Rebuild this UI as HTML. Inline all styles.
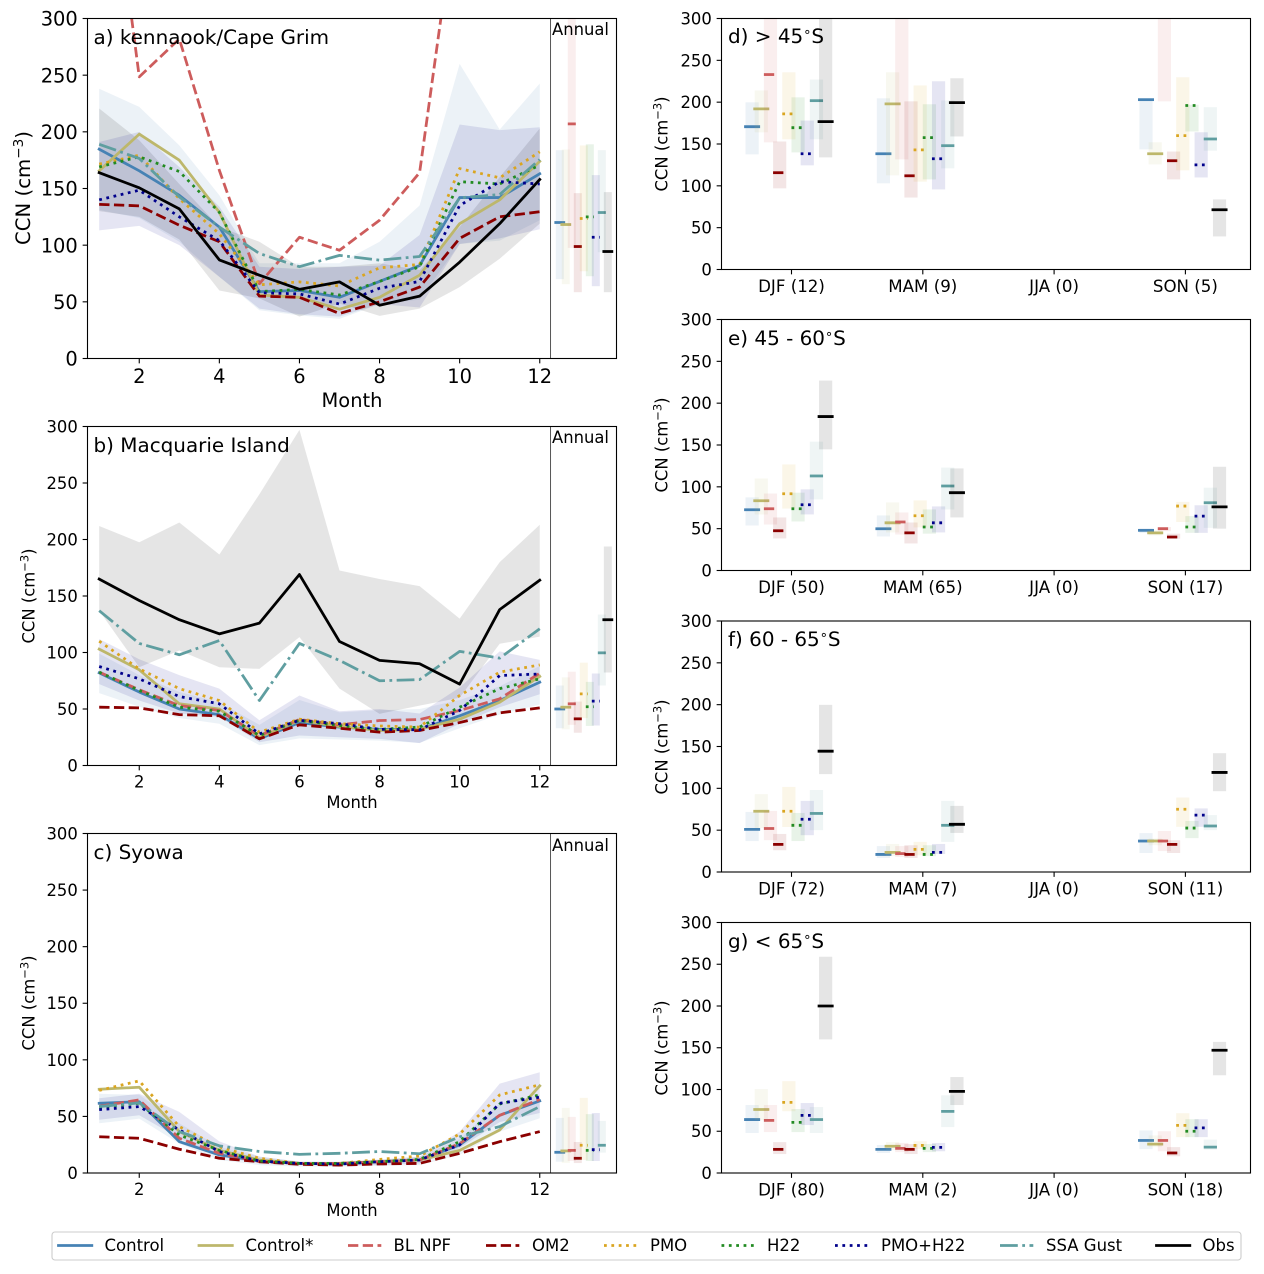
<!DOCTYPE html>
<html lang="en">
<head>
<meta charset="utf-8">
<title>CCN seasonal comparison</title>
<style>
html,body{margin:0;padding:0;background:#fff;}
svg{display:block;font-family:"DejaVu Sans","Liberation Sans",sans-serif;fill:#000;}
</style>
</head>
<body>
<svg id="fig" width="1264" height="1274" viewBox="0 0 1264 1274" xmlns="http://www.w3.org/2000/svg">
  <rect width="1264" height="1274" fill="#fff"/>

  <g id="panel-a"></g>
  <text x="93.5" y="44" font-size="19.95">a) kennaook/Cape Grim</text>
  <text x="552" y="35" font-size="16.4">Annual</text>
  <text x="352" y="407" font-size="19.44" text-anchor="middle">Month</text>
  <text transform="translate(30 188) rotate(-90)" font-size="19.7" text-anchor="middle">CCN (cm<tspan dy="-7" font-size="13.6">−3</tspan><tspan dy="7">)</tspan></text>

  <g id="panel-b"></g>
  <text x="93.5" y="452" font-size="19.95">b) Macquarie Island</text>
  <text x="552" y="443" font-size="16.4">Annual</text>
  <text x="352" y="808" font-size="16.4" text-anchor="middle">Month</text>
  <text transform="translate(34.5 596) rotate(-90)" font-size="16.4" text-anchor="middle">CCN (cm<tspan dy="-6" font-size="11.5">−3</tspan><tspan dy="6">)</tspan></text>

  <g id="panel-c"></g>
  <text x="93.5" y="859" font-size="19.95">c) Syowa</text>
  <text x="552" y="851" font-size="16.4">Annual</text>
  <text x="352" y="1216" font-size="16.4" text-anchor="middle">Month</text>
  <text transform="translate(34.5 1003) rotate(-90)" font-size="16.4" text-anchor="middle">CCN (cm<tspan dy="-6" font-size="11.5">−3</tspan><tspan dy="6">)</tspan></text>

  <g id="panel-d"></g>
  <text x="728" y="43" font-size="19.95">d) &gt; 45<tspan dy="-7" font-size="13">∘</tspan><tspan dy="7">S</tspan></text>
  <text transform="translate(667.5 144) rotate(-90)" font-size="16.4" text-anchor="middle">CCN (cm<tspan dy="-6" font-size="11.5">−3</tspan><tspan dy="6">)</tspan></text>

  <g id="panel-e"></g>
  <text x="728" y="345" font-size="19.95">e) 45 - 60<tspan dy="-7" font-size="13">∘</tspan><tspan dy="7">S</tspan></text>
  <text transform="translate(667.5 445) rotate(-90)" font-size="16.4" text-anchor="middle">CCN (cm<tspan dy="-6" font-size="11.5">−3</tspan><tspan dy="6">)</tspan></text>

  <g id="panel-f"></g>
  <text x="728" y="646" font-size="19.95">f) 60 - 65<tspan dy="-7" font-size="13">∘</tspan><tspan dy="7">S</tspan></text>
  <text transform="translate(667.5 747) rotate(-90)" font-size="16.4" text-anchor="middle">CCN (cm<tspan dy="-6" font-size="11.5">−3</tspan><tspan dy="6">)</tspan></text>

  <g id="panel-g"></g>
  <text x="728" y="948" font-size="19.95">g) &lt; 65<tspan dy="-7" font-size="13">∘</tspan><tspan dy="7">S</tspan></text>
  <text transform="translate(667.5 1048) rotate(-90)" font-size="16.4" text-anchor="middle">CCN (cm<tspan dy="-6" font-size="11.5">−3</tspan><tspan dy="6">)</tspan></text>

  <g font-size="16.5">
    <rect x="52" y="1232" width="1189" height="28" rx="3" ry="3" fill="#fff" stroke="#cccccc" stroke-width="1.1"/>
    <line x1="58.5" x2="91.8" y1="1245.5" y2="1245.5" stroke="#4682b4" stroke-width="2.78" stroke-linecap="square"/>
    <text x="104.5" y="1251">Control</text>
    <line x1="199" x2="232.3" y1="1245.5" y2="1245.5" stroke="#bdb76b" stroke-width="2.78" stroke-linecap="square"/>
    <text x="245.5" y="1251">Control*</text>
    <line x1="348" x2="381.3" y1="1245.5" y2="1245.5" stroke="#cd5c5c" stroke-width="2.78" stroke-dasharray="10.3 4.45"/>
    <text x="393.5" y="1251">BL NPF</text>
    <line x1="486" x2="519.3" y1="1245.5" y2="1245.5" stroke="#8b0000" stroke-width="2.78" stroke-dasharray="10.3 4.45"/>
    <text x="532" y="1251">OM2</text>
    <line x1="604" x2="637.3" y1="1245.5" y2="1245.5" stroke="#daa520" stroke-width="2.78" stroke-dasharray="2.78 4.58"/>
    <text x="650" y="1251">PMO</text>
    <line x1="721.5" x2="754.8" y1="1245.5" y2="1245.5" stroke="#228b22" stroke-width="2.78" stroke-dasharray="2.78 4.58"/>
    <text x="767" y="1251">H22</text>
    <line x1="835" x2="868.3" y1="1245.5" y2="1245.5" stroke="#00008b" stroke-width="2.78" stroke-dasharray="2.78 4.58"/>
    <text x="881" y="1251">PMO+H22</text>
    <line x1="1000" x2="1033.3" y1="1245.5" y2="1245.5" stroke="#5f9ea0" stroke-width="2.78" stroke-dasharray="17.8 4.45 2.78 4.45"/>
    <text x="1046" y="1251">SSA Gust</text>
    <line x1="1156.5" x2="1189.8" y1="1245.5" y2="1245.5" stroke="#000000" stroke-width="2.78" stroke-linecap="square"/>
    <text x="1202.5" y="1251">Obs</text>
  </g>
</svg>

<script>
/* ---------- shared tick values ---------- */
const monthTicks = [2, 4, 6, 8, 10, 12];
const months = [1, 2, 3, 4, 5, 6, 7, 8, 9, 10, 11, 12];
const ccnTicks = [0, 50, 100, 150, 200, 250, 300];

/* ---------- panel a: kennaook/Cape Grim ---------- */
const aControl  = [184.7, 165.6, 144, 116, 59, 60, 54, 68, 82, 142, 142, 163];
const aControlS = [165.6, 198, 175, 129, 56, 54, 43.5, 54, 73.5, 119, 140, 174];
const aBlNpf    = [520, 248.5, 282, 166, 66, 107, 95.5, 122, 164, 420, 600, 500];
const aOm2      = [136, 134.7, 117.6, 103, 55, 54, 39.7, 50, 63, 106, 125, 129.5];
const aPmo      = [171.5, 179.4, 141, 110, 65, 67.6, 64, 80, 83, 167.6, 159.4, 182.4];
const aH22      = [169, 178, 165, 129, 59, 61, 56, 68, 81, 156, 154, 170.6];
const aPmoH22   = [140, 148.5, 125, 104, 58, 57, 48, 62, 68, 135, 156, 154];
const aSsa      = [189, 176.5, 142.6, 116, 92.6, 81, 91, 86.8, 90, 141.8, 144.7, 175.6];
const aObs      = [164, 150.6, 132, 87, 73.5, 61, 67.6, 47, 55, 85, 119, 158];
const aControlHi = [238, 222, 188, 144, 84, 84, 84, 103, 135, 260, 202, 242.7];
const aControlLo = [131, 124, 103, 72, 42.6, 38, 35, 48, 52, 101, 104, 122];
const aMixHi = [191, 200, 169, 134, 81, 79, 81, 82, 109, 206.5, 201.5, 204];
const aMixLo = [113, 117, 100, 72, 44, 39, 37, 48, 45, 101, 106, 114];
const aObsHi = [220.6, 192.6, 154, 116, 103, 81, 81, 84, 78, 116, 160, 203];
const aObsLo = [130, 125, 105, 60, 53, 37, 48.5, 37.6, 44, 63, 88, 119];
const aAnnualHi  = [183.8, 184.4, 320, 145.9, 188, 189, 161.8, 183.8, 146.8];
const aAnnualMid = [120, 118.2, 207, 98.8, 123.5, 125, 107, 128.8, 94.4];
const aAnnualLo  = [70, 65.6, 97.6, 58.5, 77, 72.6, 63.8, 93.8, 58.5];

/* ---------- panel b: Macquarie Island ---------- */
const bControl  = [82, 65, 50, 45, 23.6, 38, 34, 32, 32, 44, 57.5, 73.7];
const bControlS = [103, 84.7, 54.6, 50, 25, 40, 34.5, 31, 32, 41, 56, 78.8];
const bBlNpf    = [82.6, 67, 53, 48.7, 26.5, 40.7, 36, 39.8, 40.7, 48.7, 59, 81.7];
const bOm2      = [51.6, 51, 45, 44, 23.6, 36, 33, 29.5, 31, 38, 46.6, 51];
const bPmo      = [110, 85.5, 68, 57.5, 29.5, 41, 37, 35, 34, 62, 82.6, 89];
const bH22      = [82.6, 66.4, 51.6, 48, 26.5, 40, 35.4, 32, 34, 51.6, 68, 76.7];
const bPmoH22   = [87.6, 76.7, 61, 54.6, 28, 40, 37, 32, 31.6, 48.7, 79.6, 81];
const bSsa      = [137, 108, 98, 110.6, 57.5, 108, 93, 75, 76, 101, 95, 121];
const bObs      = [165, 146, 129, 116.5, 126, 169, 109.7, 93, 90, 72, 138, 164];
const bControlHi = [99, 80, 65, 56, 36, 58, 47, 49, 50, 58, 70, 88];
const bControlLo = [64, 52, 42, 37, 18, 24, 23, 22, 20, 33, 45, 54];
const bMixHi = [112, 94, 80, 68, 40, 62, 48, 50, 46, 69, 101, 93.5];
const bMixLo = [72, 57.5, 46, 43, 20.6, 26.5, 25, 23.6, 19.8, 37, 51.6, 63];
const bObsHi = [212, 197.6, 215, 186.7, 240, 297, 172.6, 165, 158.7, 130, 180, 213];
const bObsLo = [137, 87, 101.8, 87, 85.5, 113.6, 68, 45.7, 53, 60, 107.7, 114];
const bAnnualHi  = [70.8, 78, 83, 56.6, 91, 74, 81.4, 133.6, 193.8];
const bAnnualMid = [50, 51.6, 54.6, 41.3, 63.4, 52, 57, 99.7, 129];
const bAnnualLo  = [33, 32, 36, 29, 42, 35, 35.4, 70.8, 82.3];

/* ---------- panel c: Syowa ---------- */
const cControl  = [61.6, 63, 27.7, 16, 10.6, 8.5, 8, 10, 11.5, 24.8, 51, 63.7];
const cControlS = [74, 75.8, 36.6, 20, 11.5, 8.5, 8.5, 10, 11.5, 20, 38, 77];
const cBlNpf    = [59, 64.6, 30.7, 17.4, 10, 8.5, 8.5, 10, 11.5, 26, 51, 65];
const cOm2      = [32, 30.7, 21, 13, 10, 7.7, 7, 8, 8.5, 17.4, 27.7, 36.6];
const cPmo      = [73, 81.4, 41, 23, 13, 8.5, 8.5, 12, 15, 34.5, 69, 78];
const cH22      = [58, 61.6, 33.6, 20, 10.6, 8.5, 8.5, 10, 12, 27.7, 61, 69];
const cPmoH22   = [56, 58.7, 38, 19, 10.6, 8.5, 8, 10, 11.5, 24.8, 61.6, 67];
const cSsa      = [58.7, 62, 36.6, 24, 19, 16.5, 17.4, 19, 17, 32, 41, 58.7];
const cObs      = [];
const cControlHi = [70, 69, 44, 23, 14.5, 10, 9.5, 11.5, 14.5, 30, 61.6, 69];
const cControlLo = [44, 48, 26, 11.5, 7, 5.6, 5.6, 6.5, 7, 16, 36.6, 48.4];
const cMixHi = [66, 70, 54, 28, 14.5, 10, 10, 12, 14.5, 36.6, 79, 89];
const cMixLo = [47, 51, 30.7, 14.5, 8.5, 7, 6.5, 7, 8.5, 22, 45, 53];
const cObsHi = [];
const cObsLo = [];
const cAnnualHi  = [48.7, 57.5, 49.6, 27.4, 66.4, 52, 53, 46, null];
const cAnnualMid = [18.3, 19.5, 20, 13, 24.5, 20, 20.6, 24.5, null];
const cAnnualLo  = [10, 9, 10.6, 8.8, 11.5, 10.6, 10.6, 18, null];

/* ---------- panel d: > 45S (rows: DJF, MAM, JJA, SON; order of models as legend) ---------- */
const dSeasons = ['DJF (12)', 'MAM (9)', 'JJA (0)', 'SON (5)'];
const dHi  = [[199.8, 214, 330, 153, 235.7, 205.8, 178, 227, 330],
              [204.6, 235.7, 360, 201, 220, 197.5, 225, 202, 228.6],
              [],
              [203, 152, 400, 141, 229.8, 197, 164, 194, 83.8]];
const dMid = [[170.7, 192, 233, 115.7, 186, 169.5, 138.4, 201.8, 176.7],
              [138.4, 198, 350, 112, 143, 157.6, 132.4, 148, 199.4],
              [],
              [203, 138.4, 340, 130, 160, 196, 125, 156, 71.4]];
const dLo  = [[137.6, 164, 152, 97, 155.6, 140, 124.5, 155.6, 134],
              [103, 112.5, 131.6, 86, 105, 107.7, 95.7, 120.9, 159],
              [],
              [143.6, 125.6, 201, 107.7, 118.5, 165, 110, 142, 39.5]];

/* ---------- panel e: 45-60S ---------- */
const eSeasons = ['DJF (50)', 'MAM (65)', 'JJA (0)', 'SON (17)'];
const eHi  = [[87.4, 110, 92, 63.4, 126.8, 93, 97, 154, 227],
              [65.8, 81.4, 69.4, 57.4, 83.8, 73, 76.6, 123, 122],
              [],
              [50, 48, 52, 44, 82, 65, 78, 99, 124]];
const eMid = [[72.6, 83.4, 73.8, 47.5, 91.7, 73.8, 78.6, 113, 184],
              [49.9, 57, 58, 45, 65.4, 52, 57, 101, 93],
              [],
              [48, 45, 50, 40, 77, 52, 65, 81, 76]];
const eLo  = [[53.8, 67, 55, 38.3, 74, 58.6, 67, 85, 144.8],
              [40.7, 45.5, 43, 32.3, 51.5, 44, 45.5, 73, 63.4],
              [],
              [45, 42, 47, 38, 58, 45, 45, 51, 50]];

/* ---------- panel f: 60-65S ---------- */
const fSeasons = ['DJF (72)', 'MAM (7)', 'JJA (0)', 'SON (11)'];
const fHi  = [[71.8, 93, 73, 45.5, 101.7, 70.6, 85, 98, 199.8],
              [31, 33.5, 31, 32, 36, 32, 33.5, 85, 79],
              [],
              [46.5, 40, 49, 38, 89, 61, 76, 68, 142]];
const fMid = [[51, 72.6, 52, 33, 72.6, 55.8, 63, 70, 144.4],
              [21, 23.5, 22, 21, 27, 21, 23.5, 55.8, 57],
              [],
              [37, 37, 37, 33, 75, 52.5, 68, 55, 119]];
const fLo  = [[37, 52.6, 38, 26, 53.8, 37, 44, 50, 117],
              [16.8, 19, 18, 16.8, 20, 19, 21.5, 36, 46.7],
              [],
              [22.7, 32, 25, 22.7, 54, 40.5, 54, 50, 96.6]];

/* ---------- panel g: < 65S ---------- */
const gSeasons = ['DJF (80)', 'MAM (2)', 'JJA (0)', 'SON (18)'];
const gHi  = [[81.4, 100.5, 81.4, 37, 110, 76.6, 83.8, 79, 259],
              [33.5, 37, 36, 34.7, 38, 34.7, 36, 93, 114.9],
              [],
              [51, 45, 50, 31, 71.6, 64.4, 64.4, 40, 157]];
const gMid = [[64, 76, 63, 28.3, 84.6, 60.6, 69, 64, 200],
              [28.3, 32, 29.5, 28.3, 33, 29.5, 30.7, 73.8, 97.7],
              [],
              [39, 34.6, 39, 24, 57, 50, 54, 31, 147]];
const gLo  = [[47.9, 63.4, 49, 22.7, 74, 49, 57.4, 47.9, 160],
              [24, 27.5, 25, 22.7, 28.7, 25, 26, 55, 81.4],
              [],
              [28.6, 31, 26, 20, 43, 43, 43, 28, 117]];

/* ---------- series appearance (order = legend order) ---------- */
const seriesSlugs  = ['control', 'control-star', 'bl-npf', 'om2', 'pmo', 'h22', 'pmo-h22', 'ssa-gust', 'obs'];
const seriesColors = ['#4682b4', '#bdb76b', '#cd5c5c', '#8b0000', '#daa520', '#228b22', '#00008b', '#5f9ea0', '#000000'];
const seriesDashes = ['', '', '10.3 4.45', '10.3 4.45', '2.78 4.58', '2.78 4.58', '2.78 4.58', '17.8 4.45 2.78 4.45', ''];
const LINE_W = 2.78;
const BAND_ALPHA = 0.1;
const SVGNS = 'http://www.w3.org/2000/svg';

function make(tag, attrs, parent) {
  const el = document.createElementNS(SVGNS, tag);
  for (const k in attrs) el.setAttribute(k, attrs[k]);
  parent.appendChild(el);
  return el;
}

function styleStroke(el, i) {
  el.setAttribute('stroke', seriesColors[i]);
  el.setAttribute('stroke-width', LINE_W);
  el.setAttribute('fill', 'none');
  el.setAttribute('stroke-linejoin', 'round');
  if (seriesDashes[i]) {
    el.setAttribute('stroke-dasharray', seriesDashes[i]);
  } else {
    el.setAttribute('stroke-linecap', 'square');
  }
}

function drawFrame(group, id, box, clipId) {
  const defs = make('defs', {}, group);
  const cp = make('clipPath', { id: clipId }, defs);
  make('rect', { x: box.left, y: box.top, width: box.right - box.left, height: box.bottom - box.top }, cp);
}

function drawSpines(group, box, name) {
  const r = make('rect', { x: box.left, y: box.top, width: box.right - box.left, height: box.bottom - box.top, fill: 'none', stroke: '#000', 'stroke-width': 1.1 }, group);
  
  
}

function drawYAxis(group, box, yScale, fs, name) {
  ccnTicks.forEach(function (v) {
    const y = yScale(v);
    const t = make('line', { x1: box.left - 4.86, x2: box.left, y1: y, y2: y, stroke: '#000', 'stroke-width': 1.1 }, group);
    
    
    const l = make('text', { x: box.left - 9.7, y: y + fs * 0.365, 'font-size': fs, 'text-anchor': 'end' }, group);
    l.textContent = String(v);
    
    
  });
}

function drawXTick(group, box, x, label, fs, name) {
  const t = make('line', { x1: x, x2: x, y1: box.bottom, y2: box.bottom + 4.86, stroke: '#000', 'stroke-width': 1.1 }, group);
  
  
  const l = make('text', { x: x, y: box.bottom + 9.7 + fs * 0.76, 'font-size': fs, 'text-anchor': 'middle' }, group);
  l.textContent = label;
  
  
}

function drawBoxMark(group, xc, halfBox, halfLine, lo, mid, hi, yScale, i, clipId, slug) {
  const box = make('rect', { x: xc - halfBox, width: 2 * halfBox, y: yScale(hi), height: yScale(lo) - yScale(hi), fill: seriesColors[i], 'fill-opacity': BAND_ALPHA, 'clip-path': 'url(#' + clipId + ')' }, group);
  
  
  const dash = make('line', { x1: xc - halfLine, x2: xc + halfLine, y1: yScale(mid), y2: yScale(mid), 'clip-path': 'url(#' + clipId + ')' }, group);
  styleStroke(dash, i);
  
  
}

function drawMonthlyPanel(id, box, lines, bands, annualLo, annualMid, annualHi, fs) {
  const group = document.getElementById(id);
  const clipId = 'clip-' + id;
  drawFrame(group, id, box, clipId);
  const xScale = function (m) { return 99.2 + (m - 1) * 40.05; };
  const yScale = function (v) { return box.bottom - v / 300 * (box.bottom - box.top); };

  bands.forEach(function (b) {
    const up = b.hi.map(function (v, k) { return xScale(months[k]) + ',' + yScale(v); });
    const down = b.lo.map(function (v, k) { return xScale(months[k]) + ',' + yScale(v); }).reverse();
    const p = make('polygon', { points: up.concat(down).join(' '), fill: seriesColors[b.series], 'fill-opacity': BAND_ALPHA, 'clip-path': 'url(#' + clipId + ')' }, group);
    
    
  });

  lines.forEach(function (vals, i) {
    if (!vals.length) return;
    const pts = vals.map(function (v, k) { return xScale(months[k]) + ',' + yScale(v); }).join(' ');
    const pl = make('polyline', { points: pts, 'clip-path': 'url(#' + clipId + ')' }, group);
    styleStroke(pl, i);
    
    
  });

  annualMid.forEach(function (mid, i) {
    if (mid === null) return;
    const xa = xScale(12.5 + 0.15 * i);
    drawBoxMark(group, xa, 4, 4, annualLo[i], mid, annualHi[i], yScale, i, clipId, 'annual-' + seriesSlugs[i]);
  });

  const sep = make('line', { x1: xScale(12.27), x2: xScale(12.27), y1: box.top, y2: box.bottom, stroke: '#444', 'stroke-width': 0.9 }, group);
  
  

  drawSpines(group, box, id);
  drawYAxis(group, box, yScale, fs, id);
  monthTicks.forEach(function (m) {
    drawXTick(group, box, xScale(m), String(m), fs, id);
  });
}

function drawSeasonPanel(id, box, labels, lo, mid, hi) {
  const group = document.getElementById(id);
  const clipId = 'clip-' + id;
  drawFrame(group, id, box, clipId);
  const xScale = function (s) { return 791.5 + s * 131.3; };
  const yScale = function (v) { return box.bottom - v / 300 * (box.bottom - box.top); };
  const offset = function (i) { return -0.3 + 0.07 * i; };

  mid.forEach(function (season, s) {
    season.forEach(function (m, i) {
      drawBoxMark(group, xScale(s + offset(i)), 6.6, 6.6, lo[s][i], m, hi[s][i], yScale, i, clipId, seriesSlugs[i]);
    });
  });

  drawSpines(group, box, id);
  drawYAxis(group, box, yScale, 16.4, id);
  labels.forEach(function (lab, s) {
    drawXTick(group, box, xScale(s), lab, 16.67, id);
  });
}

drawMonthlyPanel('panel-a', { left: 87.5, right: 616.5, top: 18.5, bottom: 358.5 },
  [aControl, aControlS, aBlNpf, aOm2, aPmo, aH22, aPmoH22, aSsa, aObs],
  [{ series: 0, hi: aControlHi, lo: aControlLo }, { series: 8, hi: aObsHi, lo: aObsLo }, { series: 6, hi: aMixHi, lo: aMixLo }],
  aAnnualLo, aAnnualMid, aAnnualHi, 19.44);

drawMonthlyPanel('panel-b', { left: 87.5, right: 616.5, top: 426.5, bottom: 765.5 },
  [bControl, bControlS, bBlNpf, bOm2, bPmo, bH22, bPmoH22, bSsa, bObs],
  [{ series: 0, hi: bControlHi, lo: bControlLo }, { series: 8, hi: bObsHi, lo: bObsLo }, { series: 6, hi: bMixHi, lo: bMixLo }],
  bAnnualLo, bAnnualMid, bAnnualHi, 16.4);

drawMonthlyPanel('panel-c', { left: 87.5, right: 616.5, top: 833.5, bottom: 1173 },
  [cControl, cControlS, cBlNpf, cOm2, cPmo, cH22, cPmoH22, cSsa, cObs],
  [{ series: 0, hi: cControlHi, lo: cControlLo }, { series: 6, hi: cMixHi, lo: cMixLo }],
  cAnnualLo, cAnnualMid, cAnnualHi, 16.4);

drawSeasonPanel('panel-d', { left: 721.5, right: 1250.5, top: 18.5, bottom: 269.5 }, dSeasons, dLo, dMid, dHi);
drawSeasonPanel('panel-e', { left: 721.5, right: 1250.5, top: 319.5, bottom: 570.5 }, eSeasons, eLo, eMid, eHi);
drawSeasonPanel('panel-f', { left: 721.5, right: 1250.5, top: 621, bottom: 872 }, fSeasons, fLo, fMid, fHi);
drawSeasonPanel('panel-g', { left: 721.5, right: 1250.5, top: 922.5, bottom: 1173 }, gSeasons, gLo, gMid, gHi);
</script>
</body>
</html>
